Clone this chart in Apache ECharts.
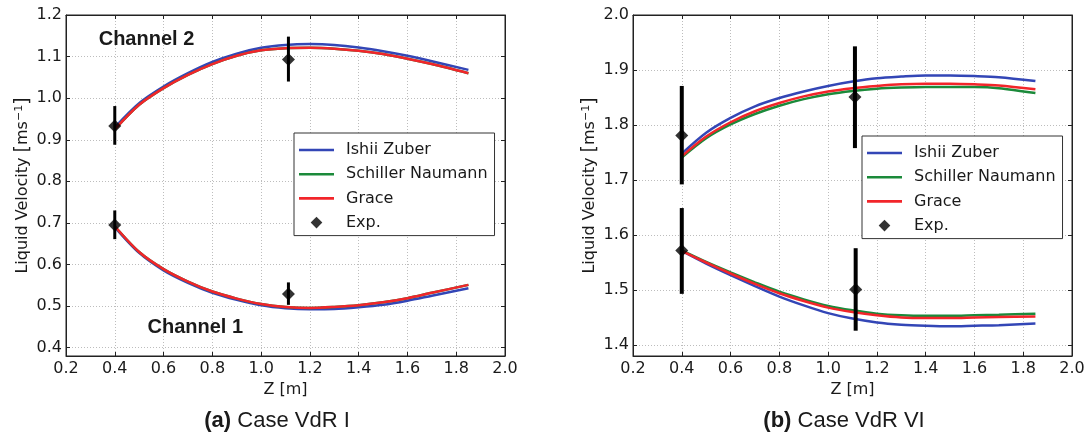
<!DOCTYPE html>
<html>
<head>
<meta charset="utf-8">
<script src="https://cdn.jsdelivr.net/npm/echarts@6/dist/echarts.min.js"></script>
<style>
html,body{margin:0;padding:0;background:#fff;}
#chart{width:1089px;height:436px;}
</style>
</head>
<body>
<div id="chart"></div>
<script>
// ---------- data ----------
const zCurve = [0.4, 0.5, 0.6, 0.7, 0.8, 0.9, 1.0, 1.1, 1.2, 1.3, 1.4, 1.5, 1.6, 1.7, 1.85];

// Case VdR I
const a_ch2_ishii    = [0.930, 0.988, 1.028, 1.060, 1.087, 1.107, 1.121, 1.128, 1.130, 1.128, 1.122, 1.113, 1.102, 1.089, 1.068];
const a_ch2_schiller = [0.925, 0.984, 1.024, 1.056, 1.082, 1.102, 1.115, 1.120, 1.121, 1.119, 1.114, 1.106, 1.095, 1.082, 1.060];
const a_ch2_grace    = [0.925, 0.984, 1.024, 1.056, 1.082, 1.102, 1.115, 1.120, 1.121, 1.119, 1.114, 1.106, 1.095, 1.082, 1.060];
const a_ch1_ishii    = [0.690, 0.628, 0.586, 0.556, 0.532, 0.515, 0.502, 0.495, 0.4925, 0.493, 0.497, 0.503, 0.513, 0.525, 0.543];
const a_ch1_schiller = [0.692, 0.630, 0.589, 0.559, 0.535, 0.518, 0.505, 0.498, 0.4957, 0.498, 0.502, 0.509, 0.519, 0.532, 0.551];
const a_ch1_grace    = [0.692, 0.630, 0.589, 0.559, 0.535, 0.518, 0.505, 0.498, 0.4957, 0.498, 0.502, 0.509, 0.519, 0.532, 0.551];
const a_expZ  = [0.4, 1.112, 0.4, 1.112];
const a_expV  = [0.933, 1.093, 0.695, 0.529];
const a_expLo = [0.888, 1.040, 0.661, 0.503];
const a_expHi = [0.981, 1.148, 0.730, 0.557];

// Case VdR VI
const b_ch2_ishii    = [1.748, 1.786, 1.813, 1.834, 1.849, 1.861, 1.871, 1.879, 1.885, 1.888, 1.890, 1.890, 1.889, 1.887, 1.880];
const b_ch2_schiller = [1.741, 1.776, 1.801, 1.820, 1.835, 1.847, 1.856, 1.862, 1.866, 1.868, 1.869, 1.869, 1.869, 1.867, 1.858];
const b_ch2_grace    = [1.743, 1.779, 1.805, 1.825, 1.840, 1.852, 1.861, 1.867, 1.871, 1.874, 1.875, 1.875, 1.874, 1.872, 1.865];
const b_ch1_ishii    = [1.571, 1.548, 1.527, 1.507, 1.488, 1.472, 1.458, 1.448, 1.441, 1.437, 1.435, 1.434, 1.435, 1.436, 1.439];
const b_ch1_schiller = [1.572, 1.551, 1.532, 1.514, 1.497, 1.483, 1.471, 1.463, 1.457, 1.454, 1.453, 1.453, 1.454, 1.455, 1.457];
const b_ch1_grace    = [1.571, 1.550, 1.530, 1.511, 1.494, 1.480, 1.468, 1.460, 1.454, 1.450, 1.449, 1.449, 1.450, 1.451, 1.452];
const b_expZ  = [0.4, 1.11, 0.4, 1.113];
const b_expV  = [1.781, 1.851, 1.572, 1.501];
const b_expLo = [1.692, 1.758, 1.493, 1.426];
const b_expHi = [1.871, 1.943, 1.649, 1.576];

const seriesNames = ['Ishii Zuber', 'Schiller Naumann', 'Grace', 'Exp.'];
const captions = ['(a)', 'Case VdR I', '(b)', 'Case VdR VI'];
const channelLabels = [['Channel 2', 0.53, 1.142], ['Channel 1', 0.73, 0.4476]];

// ---------- styling ----------
const COLORS = {ishii: '#3346b6', schiller: '#1b8a3a', grace: '#f2252a', exp: '#000000'};
const MPL = 'DejaVu Sans';
const TXT = '#1a1a1a';

function pairs(xs, ys) { return xs.map((x, i) => [x, ys[i]]); }

function xAxes(grid) {
  return [{
    type: 'value', gridIndex: grid, min: 0.2, max: 2.0, interval: 0.2,
    name: 'Z [m]', nameLocation: 'middle', nameGap: 24,
    nameTextStyle: {fontFamily: MPL, fontSize: 16, color: TXT},
    axisLine: {show: true, lineStyle: {color: '#222', width: 1}},
    axisTick: {show: true, inside: true, length: 4, lineStyle: {color: '#222'}},
    axisLabel: {fontFamily: MPL, fontSize: 16, color: TXT, margin: 5, formatter: v => v.toFixed(1)},
    splitLine: {show: true, lineStyle: {color: '#bdbdbd', type: [1, 2], width: 1}}
  }, {
    type: 'value', gridIndex: grid, position: 'top', min: 0.2, max: 2.0, interval: 0.2,
    axisLine: {show: true, lineStyle: {color: '#222', width: 1}},
    axisTick: {show: true, inside: true, length: 4, lineStyle: {color: '#222'}},
    axisLabel: {show: false}, splitLine: {show: false}
  }];
}

function yAxes(grid, min, max, gap) {
  return [{
    type: 'value', gridIndex: grid, min: min, max: max, minInterval: 0.1, maxInterval: 0.1, splitNumber: 8,
    name: 'Liquid Velocity {br|[}ms{sup|−1}{br|]}', nameLocation: 'middle', nameGap: gap,
    nameTextStyle: {fontFamily: MPL, fontSize: 16, color: TXT,
      rich: {
        br: {fontFamily: MPL, fontSize: 19, color: TXT},
        sup: {fontFamily: MPL, fontSize: 11, color: TXT, verticalAlign: 'top', lineHeight: 20}
      }},
    axisLine: {show: true, lineStyle: {color: '#222', width: 1}},
    axisTick: {show: true, inside: true, length: 4, lineStyle: {color: '#222'}},
    axisLabel: {fontFamily: MPL, fontSize: 16, color: TXT, margin: 4, showMinLabel: false,
      formatter: v => v.toFixed(1)},
    splitLine: {show: true, lineStyle: {color: '#bdbdbd', type: [1, 2], width: 1}}
  }, {
    type: 'value', gridIndex: grid, position: 'right', min: min, max: max, minInterval: 0.1, maxInterval: 0.1, splitNumber: 8,
    axisLine: {show: true, lineStyle: {color: '#222', width: 1}},
    axisTick: {show: true, inside: true, length: 4, lineStyle: {color: '#222'}},
    axisLabel: {show: false}, splitLine: {show: false}
  }];
}

function curve(name, color, data, xi, yi) {
  return {
    type: 'line', name: name, xAxisIndex: xi, yAxisIndex: yi,
    data: pairs(zCurve, data), symbol: 'none', showSymbol: false, smooth: 0.3,
    lineStyle: {color: color, width: 2.5}, itemStyle: {color: color},
    silent: true, z: 2
  };
}

function errBars(xs, lo, hi, xi, yi, w) {
  return {
    type: 'custom', name: 'Exp. error', xAxisIndex: xi, yAxisIndex: yi, z: 5, silent: true,
    data: xs.map((x, i) => [x, lo[i], hi[i]]),
    renderItem: function (params, api) {
      const p1 = api.coord([api.value(0), api.value(1)]);
      const p2 = api.coord([api.value(0), api.value(2)]);
      return {type: 'line', shape: {x1: p1[0], y1: p1[1], x2: p2[0], y2: p2[1]},
              style: {stroke: '#000', lineWidth: w}};
    }
  };
}

function expPts(xs, ys, xi, yi) {
  return {
    type: 'scatter', name: 'Exp.', xAxisIndex: xi, yAxisIndex: yi, z: 6, silent: true,
    data: pairs(xs, ys), symbol: 'diamond', symbolSize: 13,
    itemStyle: {color: '#000'}
  };
}

function channelText(xi, yi) {
  return {
    type: 'scatter', name: 'channel-labels', xAxisIndex: xi, yAxisIndex: yi, silent: true, z: 7,
    data: channelLabels.map(c => ({value: [c[1], c[2]], label: {formatter: c[0]}})),
    symbol: 'circle', symbolSize: 1, itemStyle: {color: 'rgba(0,0,0,0)'},
    label: {show: true, position: 'inside', fontFamily: 'Liberation Sans', fontWeight: 'bold',
            fontSize: 20, color: TXT, opacity: 1}
  };
}

const diamondIcon = 'path://M-1,-1 M11,11 M5,0 L10,5 L5,10 L0,5 Z';
const lineIcon = 'path://M0,0 L35,0 L35,2.6 L0,2.6 Z';

function legend(left, top) {
  return {
    left: left, top: top, orient: 'vertical', selectedMode: false,
    backgroundColor: '#fff', borderColor: '#333', borderWidth: 1, borderRadius: 0,
    padding: [9, 7, 5, 5], itemWidth: 35, itemHeight: 14, itemGap: 8.2,
    textStyle: {fontFamily: MPL, fontSize: 16, color: TXT, padding: [0, 0, 0, 7]},
    data: [
      {name: seriesNames[0], icon: lineIcon, itemStyle: {color: COLORS.ishii}},
      {name: seriesNames[1], icon: lineIcon, itemStyle: {color: COLORS.schiller}},
      {name: seriesNames[2], icon: lineIcon, itemStyle: {color: COLORS.grace}},
      {name: seriesNames[3], icon: diamondIcon, itemStyle: {color: '#000'}}
    ]
  };
}

const chart = echarts.init(document.getElementById('chart'), null, {renderer: 'canvas'});

const option = {
  animation: false,
  backgroundColor: '#fff',
  grid: [
    {left: 66, top: 15, width: 439, height: 341, show: true, borderColor: '#222', borderWidth: 1, backgroundColor: '#fff'},
    {left: 633, top: 15, width: 439, height: 341, show: true, borderColor: '#222', borderWidth: 1, backgroundColor: '#fff'}
  ],
  xAxis: [...xAxes(0), ...xAxes(1)],
  yAxis: [...yAxes(0, 0.38, 1.2, 29), ...yAxes(1, 1.38, 2.0, 29)],
  legend: [legend(294, 133), legend(862, 136)],
  series: [
    curve(seriesNames[0], COLORS.ishii, a_ch2_ishii, 0, 0),
    curve(seriesNames[1], COLORS.schiller, a_ch2_schiller, 0, 0),
    curve(seriesNames[2], COLORS.grace, a_ch2_grace, 0, 0),
    curve(seriesNames[0], COLORS.ishii, a_ch1_ishii, 0, 0),
    curve(seriesNames[1], COLORS.schiller, a_ch1_schiller, 0, 0),
    curve(seriesNames[2], COLORS.grace, a_ch1_grace, 0, 0),
    errBars(a_expZ, a_expLo, a_expHi, 0, 0, 3),
    expPts(a_expZ, a_expV, 0, 0),
    channelText(0, 0),

    curve(seriesNames[0], COLORS.ishii, b_ch2_ishii, 2, 2),
    curve(seriesNames[1], COLORS.schiller, b_ch2_schiller, 2, 2),
    curve(seriesNames[2], COLORS.grace, b_ch2_grace, 2, 2),
    curve(seriesNames[0], COLORS.ishii, b_ch1_ishii, 2, 2),
    curve(seriesNames[1], COLORS.schiller, b_ch1_schiller, 2, 2),
    curve(seriesNames[2], COLORS.grace, b_ch1_grace, 2, 2),
    errBars(b_expZ, b_expLo, b_expHi, 2, 2, 4),
    expPts(b_expZ, b_expV, 2, 2)
  ],
  graphic: [
    {type: 'text', x: 277, y: 421, silent: true,
     style: {text: '{b|' + captions[0] + '} ' + captions[1], align: 'center', verticalAlign: 'middle',
             fontFamily: 'Liberation Sans', fontSize: 22, fill: TXT,
             rich: {b: {fontFamily: 'Liberation Sans', fontWeight: 'bold', fontSize: 22, fill: TXT}}}},
    {type: 'text', x: 844, y: 421, silent: true,
     style: {text: '{b|' + captions[2] + '} ' + captions[3], align: 'center', verticalAlign: 'middle',
             fontFamily: 'Liberation Sans', fontSize: 22, fill: TXT,
             rich: {b: {fontFamily: 'Liberation Sans', fontWeight: 'bold', fontSize: 22, fill: TXT}}}}
  ]
};
chart.setOption(option);
</script>
</body>
</html>
